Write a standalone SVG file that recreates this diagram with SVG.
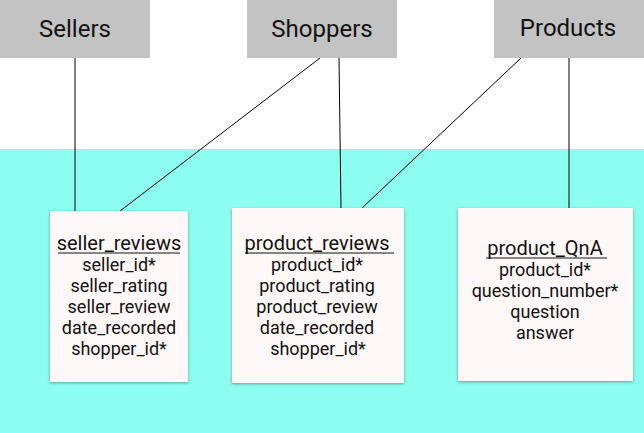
<svg xmlns="http://www.w3.org/2000/svg" width="644" height="433" viewBox="0 0 644 433">
<defs>
<style>
.hdr{fill:#c3c3c3}
.ht{font-family:Roboto,"Liberation Sans",sans-serif;font-size:24px;fill:#111;text-anchor:middle}
.tbl{fill:#fff8f8;filter:url(#sh)}
.tt{font-family:Roboto,"Liberation Sans",sans-serif;font-size:18px;fill:#111;text-anchor:middle}
.ti{font-family:Roboto,"Liberation Sans",sans-serif;font-size:20px;fill:#111;text-anchor:middle}
.ul{stroke:#111;stroke-width:1.2}
.cn{stroke:#000;stroke-width:1;fill:none}
</style>
<filter id="sh" x="-10%" y="-10%" width="120%" height="120%">
<feDropShadow dx="0" dy="1" stdDeviation="1.5" flood-color="#000" flood-opacity="0.35"/>
</filter>
</defs>
<rect x="0" y="0" width="644" height="433" fill="#ffffff"/>
<rect x="0" y="149" width="644" height="284" fill="#8cfdee"/>
<g id="connectors">
<line class="cn" x1="75" y1="58" x2="75" y2="211"/>
<line class="cn" x1="320" y1="58" x2="120" y2="211"/>
<line class="cn" x1="339" y1="58" x2="341" y2="209"/>
<line class="cn" x1="521" y1="58" x2="361" y2="209"/>
<line class="cn" x1="569" y1="58" x2="569" y2="208"/>
</g>
<g id="sellers">
<rect class="hdr" x="0" y="0" width="150" height="58"/>
<text class="ht" x="75" y="37">Sellers</text>
</g>
<g id="shoppers">
<rect class="hdr" x="247" y="0" width="150" height="58"/>
<text class="ht" x="322" y="37">Shoppers</text>
</g>
<g id="products">
<rect class="hdr" x="494" y="0" width="150" height="58"/>
<text class="ht" x="568" y="36">Products</text>
</g>
<g id="seller_reviews">
<rect class="tbl" x="50" y="211" width="138" height="171"/>
<text class="ti" x="119" y="250">seller_reviews</text>
<line class="ul" x1="58" y1="253" x2="180" y2="253"/>
<text class="tt" x="119" y="271">seller_id*</text>
<text class="tt" x="119" y="292">seller_rating</text>
<text class="tt" x="119" y="313">seller_review</text>
<text class="tt" x="119" y="334">date_recorded</text>
<text class="tt" x="119" y="355">shopper_id*</text>
</g>
<g id="product_reviews">
<rect class="tbl" x="232" y="208" width="172" height="175"/>
<text class="ti" x="317" y="250">product_reviews</text>
<line class="ul" x1="245" y1="253" x2="394" y2="253"/>
<text class="tt" x="317" y="271">product_id*</text>
<text class="tt" x="317" y="292">product_rating</text>
<text class="tt" x="317" y="313">product_review</text>
<text class="tt" x="317" y="334">date_recorded</text>
<text class="tt" x="318" y="355">shopper_id*</text>
</g>
<g id="product_QnA">
<rect class="tbl" x="458" y="208" width="175" height="173"/>
<text class="ti" x="545" y="255">product_QnA</text>
<line class="ul" x1="486" y1="258" x2="607" y2="258"/>
<text class="tt" x="545" y="276">product_id*</text>
<text class="tt" x="545" y="297">question_number*</text>
<text class="tt" x="545" y="318">question</text>
<text class="tt" x="545" y="339">answer</text>
</g>
</svg>
